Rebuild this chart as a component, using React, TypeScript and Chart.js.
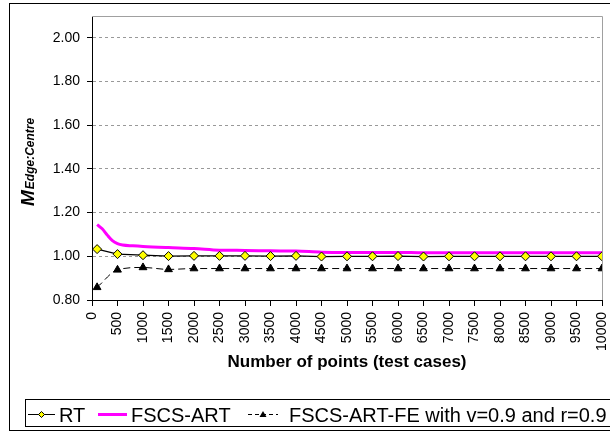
import React, { useEffect, useRef } from 'react';
import { Chart, registerables } from 'chart.js';

Chart.register(...registerables);

const FONT = "'Liberation Sans', Arial, sans-serif";

// ---- data ----
const rtX = [100, 500, 1000, 1500, 2000, 2500, 3000, 3500, 4000, 4500, 5000, 5500, 6000, 6500, 7000, 7500, 8000, 8500, 9000, 9500, 10000];
const rtY = [1.033, 1.010, 1.005, 1.001, 1.002, 1.002, 1.002, 1.001, 1.002, 0.999, 1.000, 1.000, 1.001, 0.999, 1.000, 1.000, 1.000, 1.000, 1.000, 1.000, 1.000];

const artX = [100, 200, 300, 400, 500, 600, 800, 1000, 1500, 2000, 2500, 3000, 3500, 4000, 4500, 5000, 5500, 6000, 6500, 7000, 7500, 8000, 8500, 9000, 9500, 10000];
const artY = [1.145, 1.126, 1.097, 1.072, 1.058, 1.052, 1.048, 1.045, 1.040, 1.036, 1.028, 1.027, 1.025, 1.024, 1.019, 1.018, 1.018, 1.018, 1.016, 1.016, 1.016, 1.016, 1.016, 1.016, 1.016, 1.016];

const feX = [100, 500, 1000, 1500, 2000, 2500, 3000, 3500, 4000, 4500, 5000, 5500, 6000, 6500, 7000, 7500, 8000, 8500, 9000, 9500, 10000];
const feY = [0.858, 0.938, 0.949, 0.940, 0.944, 0.944, 0.944, 0.944, 0.944, 0.944, 0.944, 0.944, 0.944, 0.944, 0.944, 0.944, 0.944, 0.944, 0.944, 0.944, 0.944];

const seriesNames = ['RT', 'FSCS-ART', 'FSCS-ART-FE with v=0.9 and r=0.9'];
const xTitle = 'Number of points (test cases)';
const yTitleMain = 'M';
const yTitleSub = 'Edge:Centre';
const xMin = 0;
const xMax = 10000;
const xStep = 500;
const yMin = 0.8;
const yMax = 2.1;
const yStep = 0.2;

function drawDiamond(ctx: CanvasRenderingContext2D, x: number, y: number, r: number) {
  ctx.beginPath();
  ctx.moveTo(x, y - r);
  ctx.lineTo(x + r, y);
  ctx.lineTo(x, y + r);
  ctx.lineTo(x - r, y);
  ctx.closePath();
  ctx.fillStyle = '#ffff00';
  ctx.fill();
  ctx.lineWidth = 1;
  ctx.strokeStyle = '#000';
  ctx.stroke();
}

function drawTriangle(ctx: CanvasRenderingContext2D, x: number, y: number, r: number) {
  ctx.beginPath();
  ctx.moveTo(x, y - r);
  ctx.lineTo(x + r, y + r * 0.7);
  ctx.lineTo(x - r, y + r * 0.7);
  ctx.closePath();
  ctx.fillStyle = '#000';
  ctx.fill();
}

const decorPlugin = {
  id: 'decor',
  beforeDraw(chart: any) {
    const { ctx, width, height } = chart;
    ctx.save();
    ctx.fillStyle = '#fff';
    ctx.fillRect(0, 0, width, height);
    ctx.restore();
  },
  beforeDatasetsDraw(chart: any) {
    const { ctx, chartArea: a } = chart;
    ctx.save();
    ctx.strokeStyle = '#a0a0a0';
    ctx.lineWidth = 1;
    ctx.beginPath();
    ctx.moveTo(a.left, a.top + 0.5);
    ctx.lineTo(a.right + 0.5, a.top + 0.5);
    ctx.lineTo(a.right + 0.5, a.bottom);
    ctx.stroke();
    ctx.restore();
  },
  afterDraw(chart: any) {
    const { ctx, chartArea: a } = chart;
    ctx.save();
    // outer frame
    ctx.strokeStyle = '#000';
    ctx.lineWidth = 1;
    ctx.strokeRect(9.5, 3.5, 620, 427);

    // y title
    ctx.save();
    ctx.translate(33.5, 206);
    ctx.rotate(-Math.PI / 2);
    ctx.fillStyle = '#000';
    ctx.textAlign = 'left';
    ctx.textBaseline = 'alphabetic';
    ctx.font = `italic bold 19px ${FONT}`;
    ctx.fillText(yTitleMain, 0, 0);
    const mw = ctx.measureText(yTitleMain).width;
    ctx.font = `italic bold 12px ${FONT}`;
    ctx.fillText(yTitleSub, mw + 1, 0);
    ctx.restore();

    // x title
    ctx.fillStyle = '#000';
    ctx.font = `bold 17px ${FONT}`;
    ctx.textAlign = 'center';
    ctx.textBaseline = 'middle';
    ctx.fillText(xTitle, (a.left + a.right) / 2, 362);

    // legend box
    ctx.strokeStyle = '#000';
    ctx.lineWidth = 1;
    ctx.strokeRect(25.5, 399.5, 620, 27);

    const ly = 414.5;
    const tb = 421.5;
    const ds = chart.data.datasets;
    const items = [
      { x0: 28, x1: 55, tx: 59 },
      { x0: 98, x1: 127, tx: 131 },
      { x0: 248, x1: 278, tx: 289 },
    ];
    ctx.font = `20px ${FONT}`;
    ctx.textAlign = 'left';
    ctx.textBaseline = 'alphabetic';
    items.forEach((it, i) => {
      const d = ds[i];
      ctx.save();
      ctx.strokeStyle = d.borderColor;
      ctx.lineWidth = i === 1 ? 3 : 1;
      ctx.setLineDash(i === 2 ? [4, 3] : []);
      ctx.beginPath();
      ctx.moveTo(it.x0, ly);
      ctx.lineTo(it.x1, ly);
      ctx.stroke();
      ctx.restore();
      const cx = (it.x0 + it.x1) / 2;
      if (i === 0) drawDiamond(ctx, cx, ly, 3);
      if (i === 2) drawTriangle(ctx, cx, ly, 3.5);
      ctx.fillStyle = '#000';
      ctx.fillText(d.label, it.tx, tb);
    });
    ctx.restore();
  },
};

export default function App() {
  const ref = useRef<HTMLCanvasElement>(null);
  useEffect(() => {
    const canvas = ref.current;
    if (!canvas) return;
    const chart = new Chart(canvas, {
      type: 'line',
      data: {
        datasets: [
          {
            label: seriesNames[0],
            data: rtX.map((x, i) => ({ x, y: rtY[i] })),
            borderColor: '#000',
            borderWidth: 1.25,
            pointStyle: 'rectRot',
            pointRadius: 4.5,
            pointBackgroundColor: '#ffff00',
            pointBorderColor: '#000',
            pointBorderWidth: 1,
            tension: 0,
          },
          {
            label: seriesNames[1],
            data: artX.map((x, i) => ({ x, y: artY[i] })),
            borderColor: '#ff00ff',
            borderWidth: 3,
            pointRadius: 0,
            cubicInterpolationMode: 'monotone',
          },
          {
            label: seriesNames[2],
            data: feX.map((x, i) => ({ x, y: feY[i] })),
            borderColor: '#000',
            borderWidth: 1,
            borderDash: [7, 4],
            pointStyle: 'triangle',
            pointRadius: 4.5,
            pointBackgroundColor: '#000',
            pointBorderColor: '#000',
            pointBorderWidth: 1,
            cubicInterpolationMode: 'monotone',
          },
        ],
      } as any,
      options: {
        responsive: false,
        animation: false,
        devicePixelRatio: 1,
        events: [],
        layout: { padding: { top: 16, right: 8, left: 0, bottom: 0 } },
        plugins: { legend: { display: false }, tooltip: { enabled: false } },
        scales: {
          x: {
            type: 'linear',
            min: xMin,
            max: xMax,
            afterFit: (s: any) => {
              s.height = 132;
              s.paddingLeft = 0;
              s.paddingRight = 0;
            },
            ticks: {
              stepSize: xStep,
              autoSkip: false,
              minRotation: 90,
              maxRotation: 90,
              padding: 6,
              color: '#000',
              font: { family: FONT, size: 14 },
              callback: (v: any) => String(v),
            },
            grid: {
              drawOnChartArea: false,
              drawTicks: true,
              tickLength: 6,
              tickColor: '#000',
              color: '#000',
            },
            border: { color: '#000', width: 1 },
          },
          y: {
            type: 'linear',
            min: yMin,
            max: yMax,
            afterFit: (s: any) => {
              s.width = 92;
              s.paddingTop = 0;
              s.paddingBottom = 0;
            },
            ticks: {
              stepSize: yStep,
              includeBounds: false,
              padding: 7,
              color: '#000',
              font: { family: FONT, size: 14 },
              callback: (v: any) => Number(v).toFixed(2),
            },
            grid: {
              color: (c: any) => (c.tick && c.tick.value <= yMin + 1e-6 ? 'rgba(0,0,0,0)' : '#999'),
              tickColor: '#000',
              tickLength: 5,
              tickBorderDash: [],
            },
            border: { color: '#000', width: 1, dash: [3, 3] },
          },
        },
      } as any,
      plugins: [decorPlugin],
    });
    return () => chart.destroy();
  }, []);
  return (
    <div style={{ position: 'absolute', left: 0, top: 0, width: 610, height: 432 }}>
      <canvas ref={ref} width={610} height={432} style={{ display: 'block' }} />
    </div>
  );
}
